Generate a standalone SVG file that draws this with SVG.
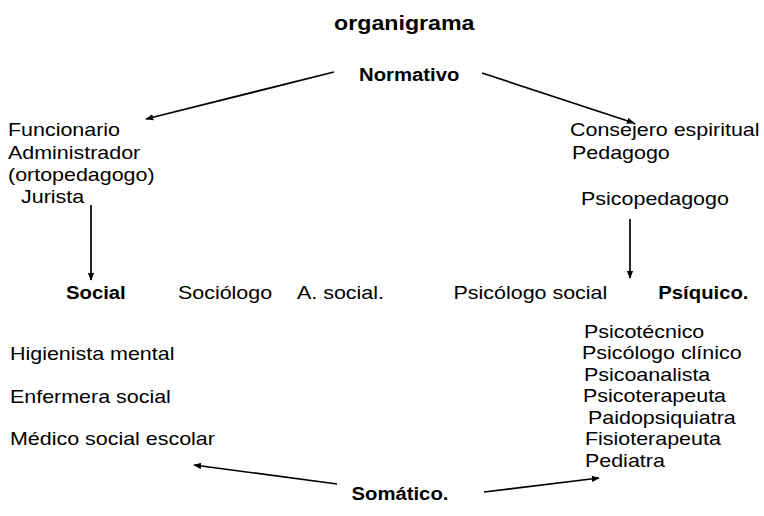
<svg xmlns="http://www.w3.org/2000/svg" width="764" height="516" viewBox="0 0 764 516">
<defs>
<marker id="ah" viewBox="0 0 10 10" refX="9" refY="5" markerWidth="8" markerHeight="8" orient="auto" markerUnits="userSpaceOnUse">
<path d="M0,1 L10,5 L0,9 z" fill="#000"/>
</marker>
<style>
text{font-family:"Liberation Sans",Arial,sans-serif;fill:#000;font-size:18.5px}
.b{font-weight:bold;font-size:17.5px}
.t{font-size:20px;font-weight:bold}
line{stroke:#000;stroke-width:1.7;fill:none}
</style>
</defs>
<rect width="764" height="516" fill="#fff"/>
<g id="texts" transform="scale(1.16,1)">
<g id="title"><text class="t" x="288" y="30">organigrama</text></g>
<g id="normativo"><text class="b" x="309.5" y="81">Normativo</text></g>
<g id="izq"><text x="6.9" y="136">Funcionario</text><text x="6.9" y="159">Administrador</text><text x="6.9" y="181">(ortopedagogo)</text><text x="18.1" y="203">Jurista</text></g>
<g id="der"><text x="491.4" y="136">Consejero espiritual</text><text x="493.1" y="159">Pedagogo</text></g>
<g id="psicopedagogo"><text x="500.9" y="205">Psicopedagogo</text></g>
<g id="social"><text class="b" x="56.9" y="299">Social</text></g>
<g id="sociologo"><text x="153.4" y="299">Sociólogo</text></g>
<g id="asocial"><text x="256" y="299">A. social.</text></g>
<g id="psicsocial"><text x="391" y="299">Psicólogo social</text></g>
<g id="psiquico"><text class="b" x="567.5" y="299">Psíquico.</text></g>
<g id="listaizq"><text x="8.6" y="360">Higienista mental</text><text x="8.6" y="403">Enfermera social</text><text x="8.6" y="445">Médico social escolar</text></g>
<g id="listader"><text x="503.4" y="338">Psicotécnico</text><text x="501.7" y="359">Psicólogo clínico</text><text x="503.4" y="381">Psicoanalista</text><text x="502.6" y="402">Psicoterapeuta</text><text x="506.9" y="424">Paidopsiquiatra</text><text x="504.3" y="445">Fisioterapeuta</text><text x="504.3" y="467">Pediatra</text></g>
<g id="somatico"><text class="b" x="303" y="500">Somático.</text></g>
</g>
<g id="connectors">
<line x1="334" y1="72" x2="146" y2="119" marker-end="url(#ah)"/>
<line x1="482" y1="73" x2="634" y2="123" marker-end="url(#ah)"/>
<line x1="91" y1="205" x2="91" y2="280" marker-end="url(#ah)"/>
<line x1="630" y1="219" x2="630" y2="278" marker-end="url(#ah)"/>
<line x1="337" y1="484" x2="194" y2="465" marker-end="url(#ah)"/>
<line x1="484" y1="492" x2="599" y2="478" marker-end="url(#ah)"/>
</g>
</svg>
